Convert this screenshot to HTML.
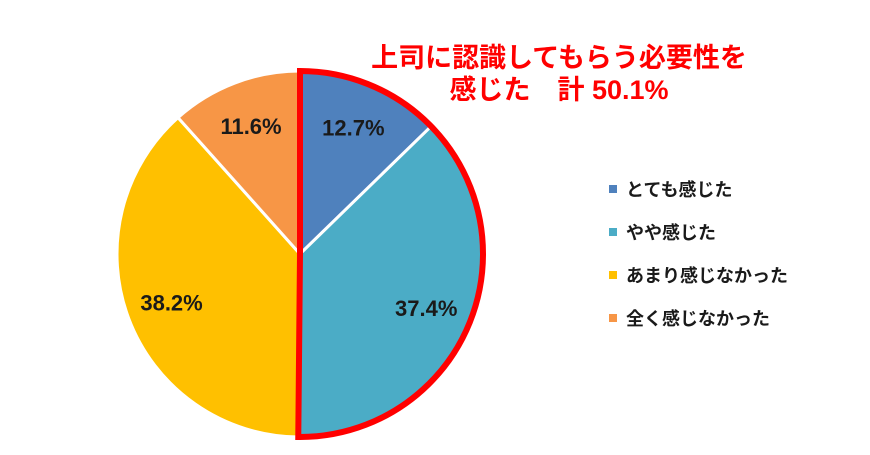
<!DOCTYPE html>
<html><head><meta charset="utf-8"><style>
body{margin:0;background:#fff;width:870px;height:455px;overflow:hidden}
svg{display:block}
text{font-family:"Liberation Sans","Noto Sans CJK JP",sans-serif;font-weight:bold}
</style></head><body>
<svg id="chart" width="870" height="455">
<g id="slices"></g>
<g id="labels"></g>
<path id="highlight" fill="none" stroke="#FF0000" stroke-width="6" stroke-linejoin="miter"/>
<g>
<text x="559" y="67" text-anchor="middle" font-size="27" fill="#FF0000">上司に認識してもらう必要性を</text>
<text x="559" y="99" text-anchor="middle" font-size="27" fill="#FF0000">感じた　計 50.1%</text>
</g>
<g id="legend"></g>
</svg>
<script>
const categories=["とても感じた","やや感じた","あまり感じなかった","全く感じなかった"];
const values=[12.7,37.4,38.2,11.6];
const labels=["12.7%","37.4%","38.2%","11.6%"];
const colors=["#4F81BD","#4BACC6","#FFC000","#F79646"];
const highlightCount=2;
const cx=300,cy=254,r=183;
const NS="http://www.w3.org/2000/svg";
const total=values.reduce((a,b)=>a+b,0);
function pt(frac,rad){const a=frac*2*Math.PI-Math.PI/2;return [cx+rad*Math.cos(a),cy+rad*Math.sin(a)];}
const sg=document.getElementById('slices'),lg=document.getElementById('labels');
let acc=0;
values.forEach((v,i)=>{
 const s=acc/total,e=(acc+v)/total;acc+=v;
 const [x1,y1]=pt(s,r),[x2,y2]=pt(e,r);
 const p=document.createElementNS(NS,'path');
 p.setAttribute('d',`M${cx},${cy}L${x1},${y1}A${r},${r} 0 ${e-s>0.5?1:0} 1 ${x2},${y2}Z`);
 p.setAttribute('fill',colors[i]);p.setAttribute('stroke','#fff');p.setAttribute('stroke-width','3');
 
 
 sg.appendChild(p);
 const [lx,ly]=pt((s+e)/2,r*0.75);
 const t=document.createElementNS(NS,'text');
 t.setAttribute('x',lx);t.setAttribute('y',ly+8);t.setAttribute('text-anchor','middle');
 t.setAttribute('font-size','22');t.setAttribute('fill','#1a1a1a');t.textContent=labels[i];
 
 
 lg.appendChild(t);
});
let hs=0;for(let i=0;i<highlightCount;i++)hs+=values[i];
const he=hs/total;const [hx,hy]=pt(he,r);const [tx,ty]=pt(0,r);
document.getElementById('highlight').setAttribute('d',`M${cx},${cy}L${tx},${ty}A${r},${r} 0 ${he>0.5?1:0} 1 ${hx},${hy}Z`);
const leg=document.getElementById('legend');
categories.forEach((c,i)=>{
 const y=190+i*43;
 const m=document.createElementNS(NS,'rect');
 m.setAttribute('x',609);m.setAttribute('y',y-5);m.setAttribute('width',8);m.setAttribute('height',8);m.setAttribute('fill',colors[i]);
 
 
 leg.appendChild(m);
 const t=document.createElementNS(NS,'text');
 t.setAttribute('x',626);t.setAttribute('y',y+6);t.setAttribute('font-size','18');t.setAttribute('fill','#1a1a1a');t.textContent=c;
 
 
 leg.appendChild(t);
});
</script>
</body></html>
